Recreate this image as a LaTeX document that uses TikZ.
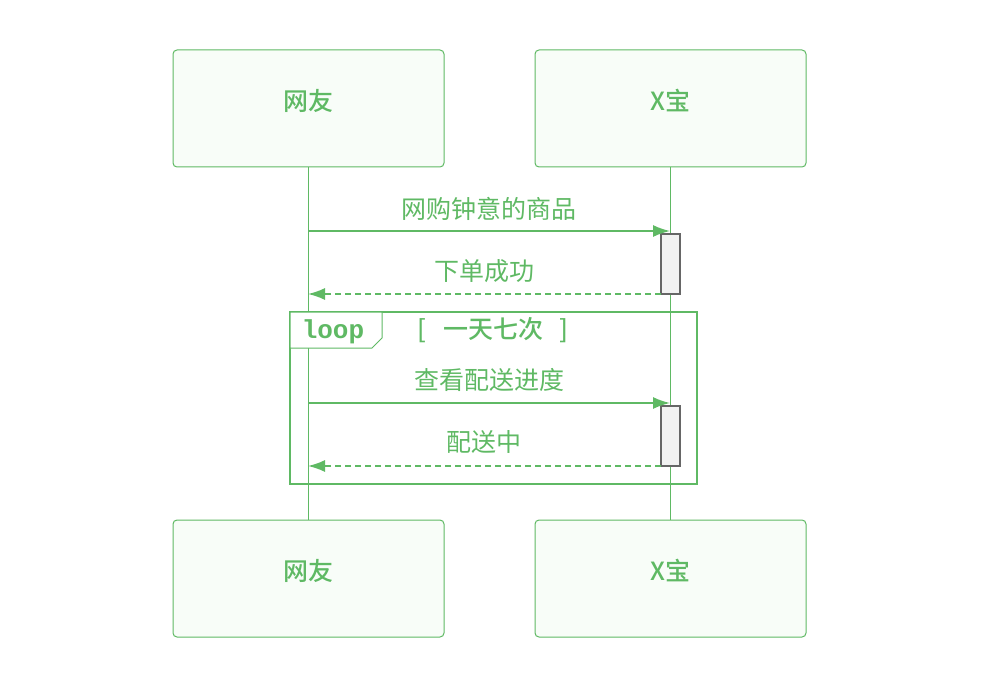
\documentclass[tikz,border=0pt]{standalone}
\usepackage{fontspec}
\setmainfont{Liberation Sans}
\newfontfamily\cjk{Noto Sans CJK SC}
\newfontfamily\cjkb{Noto Sans CJK SC Medium}
\setmonofont{Liberation Mono}
\usetikzlibrary{arrows.meta}
\definecolor{gr}{RGB}{95,185,100}
\definecolor{gfill}{RGB}{248,253,248}
\tikzset{x=1pt,y=-1pt,
actor/.style={draw=gr,fill=gfill,rounded corners=4pt,line width=1pt,minimum width=271pt,minimum height=117pt},
atext/.style={text=gr,font=\cjkb\fontsize{25}{28}\selectfont},
life/.style={draw=gr,line width=0.7pt},
msg/.style={draw=gr,line width=1.6pt,-{Latex[length=17pt,width=12pt]}},
ret/.style={msg,dashed,dash pattern=on 6pt off 4pt},
act/.style={draw=gray!80!black,fill=gray!10,line width=1.2pt},
lbl/.style={text=gr,font=\cjk\fontsize{25}{28}\selectfont}}
\begin{document}
\begin{tikzpicture}
\useasboundingbox (0,0) rectangle (996,690);
\node[actor] (a1) at (308.5,108.5) {};
\node[actor] (a2) at (670.5,108.5) {};
\node[actor] (b1) at (308.5,578.5) {};
\node[actor] (b2) at (670.5,578.5) {};
\node[atext] (a1t) at (308.5,101) {网友};
\node[atext] (a2t) at (670.5,101) {X宝};
\node[atext] (b1t) at (308.5,571) {网友};
\node[atext] (b2t) at (670.5,571) {X宝};
\draw[life] (a1.south) -- (b1.north);
\draw[life] (a2.south) -- (b2.north);
\draw[act] (661,234) rectangle (680,294);
\draw[act] (661,406) rectangle (680,466);
\coordinate (m1s) at (308,231); \coordinate (m1e) at (670,231);
\coordinate (r1s) at (661,294); \coordinate (r1e) at (308,294);
\coordinate (m2s) at (308,403); \coordinate (m2e) at (670,403);
\coordinate (r2s) at (661,466); \coordinate (r2e) at (308,466);
\draw[msg] (m1s) -- (m1e);
\draw[ret] (r1s) -- (r1e);
\draw[msg] (m2s) -- (m2e);
\draw[ret] (r2s) -- (r2e);
\node[lbl] (t1) at (489,209) {网购钟意的商品};
\node[lbl] (t2) at (484,271) {下单成功};
\node[lbl] (t3) at (489,380) {查看配送进度};
\node[lbl] (t4) at (484,442) {配送中};
\draw[gr,line width=2.5pt] (290,312) rectangle (697,484);
\draw[gr,line width=1pt,fill=white] (290,312) -- (382,312) -- (382,338) -- (372,348) -- (290,348) -- cycle;
\node[text=gr,font=\ttfamily\bfseries\fontsize{26}{28}\selectfont] (lp) at (333,332) {loop};
\node[text=gr,font=\cjkb\fontsize{25}{28}\selectfont] (cond) at (493,330) {[\ \ \ 一天七次\ \ \ ]};
\end{tikzpicture}
\end{document}
